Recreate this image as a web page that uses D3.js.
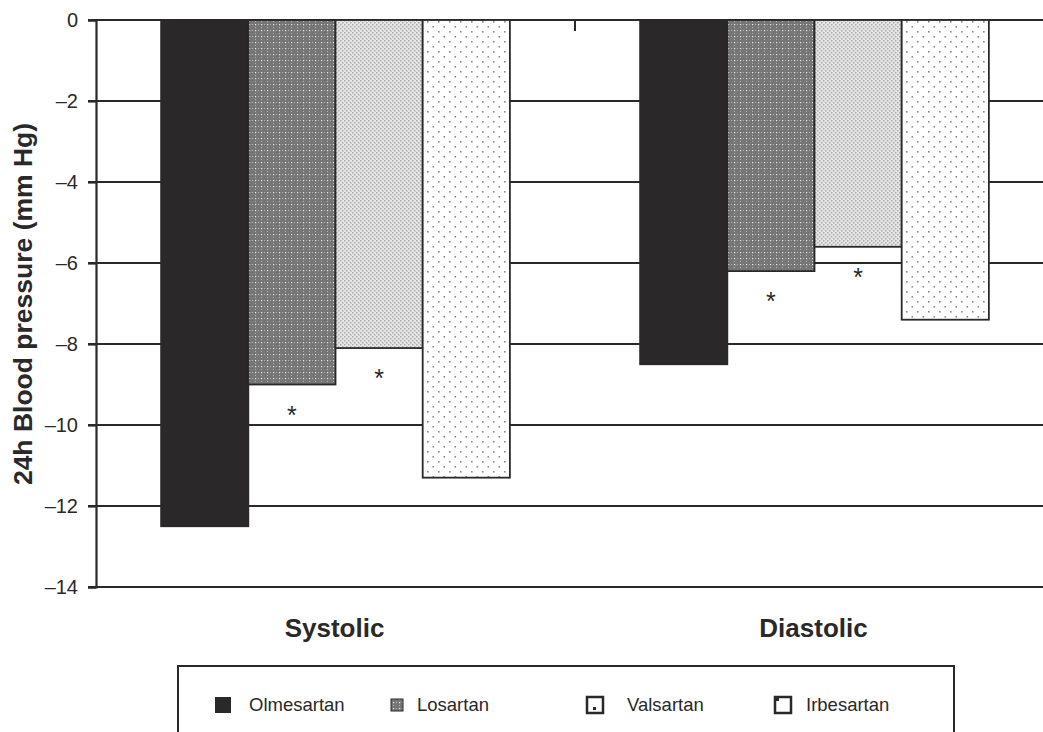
<!DOCTYPE html>
<html><head><meta charset="utf-8">
<script src="https://cdn.jsdelivr.net/npm/d3@7"></script>
<style>body{margin:0;background:#fff;}svg{display:block;font-family:"Liberation Sans",Arial,sans-serif;}</style>
</head><body>
<svg id="c" width="1043" height="732"></svg>
<script>
const categories = ["Systolic", "Diastolic"];
const seriesNames = ["Olmesartan", "Losartan", "Valsartan", "Irbesartan"];
const olmesartan = [-12.5, -8.5];
const losartan = [-9.0, -6.2];
const valsartan = [-8.1, -5.6];
const irbesartan = [-11.3, -7.4];
const significant = [false, true, true, false];
const yTicks = [0, -2, -4, -6, -8, -10, -12, -14];
const values = [olmesartan, losartan, valsartan, irbesartan];

const svg = d3.select("#c");
const ink = "#2a2829";
const margin = {left: 96, top: 20, right: 1054, bottom: 587};

const defs = svg.append("defs");
let p = defs.append("pattern").attr("id","pLos").attr("patternUnits","userSpaceOnUse").attr("width",6).attr("height",6);
p.append("rect").attr("width",6).attr("height",6).attr("fill","#767676");
p.append("rect").attr("x",0).attr("y",0).attr("width",1).attr("height",1).attr("fill","#b4b4b4");
p.append("rect").attr("x",3).attr("y",3).attr("width",1).attr("height",1).attr("fill","#b4b4b4");
p.append("rect").attr("x",3).attr("y",0).attr("width",1.2).attr("height",1.2).attr("fill","#e8e8e8");
p = defs.append("pattern").attr("id","pVal").attr("patternUnits","userSpaceOnUse").attr("width",4).attr("height",4);
p.append("rect").attr("width",4).attr("height",4).attr("fill","#e6e6e6");
p.append("rect").attr("x",0).attr("y",0).attr("width",1.5).attr("height",1.5).attr("fill","#ababab");
p.append("rect").attr("x",2).attr("y",2).attr("width",1.5).attr("height",1.5).attr("fill","#ababab");
p = defs.append("pattern").attr("id","pIrb").attr("patternUnits","userSpaceOnUse").attr("width",11).attr("height",10);
p.append("rect").attr("width",11).attr("height",10).attr("fill","#fff");
p.append("rect").attr("x",1).attr("y",1).attr("width",1.6).attr("height",1.6).attr("fill","#8a8a8a");
p.append("rect").attr("x",6.5).attr("y",6).attr("width",1.6).attr("height",1.6).attr("fill","#8a8a8a");
const fills = [ink, "url(#pLos)", "url(#pVal)", "url(#pIrb)"];

const y = d3.scaleLinear().domain([0, -14]).range([margin.top, margin.bottom]);
const x0 = d3.scaleBand().domain(categories).range([margin.left, margin.right]).paddingInner(0).paddingOuter(0);
const x1 = d3.scaleBand().domain(seriesNames).range([0, x0.bandwidth()]).paddingInner(0).paddingOuter(0.747);

svg.append("g").selectAll("line").data(yTicks).join("line")
  .attr("x1", 88).attr("x2", 1043)
  .attr("y1", d => y(d)).attr("y2", d => y(d))
  .attr("stroke", ink).attr("stroke-width", 2.2);

const yAxis = d3.axisLeft(y).tickValues(yTicks).tickSize(8).tickPadding(10)
  .tickFormat(d => d === 0 ? "0" : "\u2013" + Math.abs(d));
const ga = svg.append("g").attr("transform", `translate(${margin.left},0)`).call(yAxis);
ga.select(".domain").attr("stroke", ink).attr("stroke-width", 2.2);
ga.selectAll(".tick line").attr("stroke", ink).attr("stroke-width", 2.2);
ga.selectAll(".tick text").attr("font-size", 20).attr("fill", ink).attr("font-family", "Liberation Sans, Arial, sans-serif");

svg.append("line").attr("x1", x0("Diastolic")).attr("x2", x0("Diastolic"))
  .attr("y1", y(0)).attr("y2", y(0) + 11).attr("stroke", ink).attr("stroke-width", 2);

categories.forEach((cat, ci) => {
  const g = svg.append("g").attr("transform", `translate(${x0(cat)},0)`);
  seriesNames.forEach((s, si) => {
    const v = values[si][ci];
    g.append("rect")
      .attr("x", x1(s)).attr("y", y(0))
      .attr("width", x1.bandwidth()).attr("height", y(v) - y(0))
      .attr("fill", fills[si]).attr("stroke", ink).attr("stroke-width", 1.8);
    if (significant[si]) {
      g.append("text").attr("x", x1(s) + x1.bandwidth() / 2).attr("y", y(v) + 39)
        .attr("text-anchor", "middle").attr("font-size", 25).attr("fill", ink).text("*");
    }
  });
  svg.append("text").attr("x", x0(cat) + x0.bandwidth() / 2 - 1).attr("y", 637)
    .attr("text-anchor", "middle").attr("font-size", 26).attr("font-weight", "bold")
    .attr("fill", ink).text(cat);
});

svg.append("text").attr("transform", "translate(32,304) rotate(-90)")
  .attr("text-anchor", "middle").attr("font-size", 26.5).attr("font-weight", "bold")
  .attr("fill", ink).text("24h Blood pressure (mm Hg)");

svg.append("rect").attr("x", 178).attr("y", 666).attr("width", 776).attr("height", 100)
  .attr("fill", "none").attr("stroke", ink).attr("stroke-width", 2);
const legX = [215, 391, 587, 775];
const legTextX = [249, 417, 627, 806];
const legSize = [16, 12, 16, 16];
seriesNames.forEach((s, i) => {
  const sz = legSize[i];
  const cy = 703;
  const lr = svg.append("rect").attr("x", legX[i]).attr("y", cy - sz / 2 + 2).attr("width", sz).attr("height", sz);
  if (i === 0) lr.attr("fill", ink);
  else if (i === 1) lr.attr("fill", "url(#pLos)").attr("stroke", ink).attr("stroke-width", 1);
  else lr.attr("fill", "#fff").attr("stroke", ink).attr("stroke-width", 2.5);
  if (i === 2) {
    svg.append("rect").attr("x", legX[i] + 6).attr("y", cy + 4).attr("width", 3).attr("height", 3).attr("fill", ink);
  }
  if (i === 3) {
    svg.append("rect").attr("x", legX[i] + 1).attr("y", cy - 5).attr("width", 3).attr("height", 3).attr("fill", ink);
  }
  svg.append("text").attr("x", legTextX[i]).attr("y", cy + 3).attr("dominant-baseline", "middle")
    .attr("font-size", 18.5).attr("fill", ink).text(s);
});
</script>
</body></html>
